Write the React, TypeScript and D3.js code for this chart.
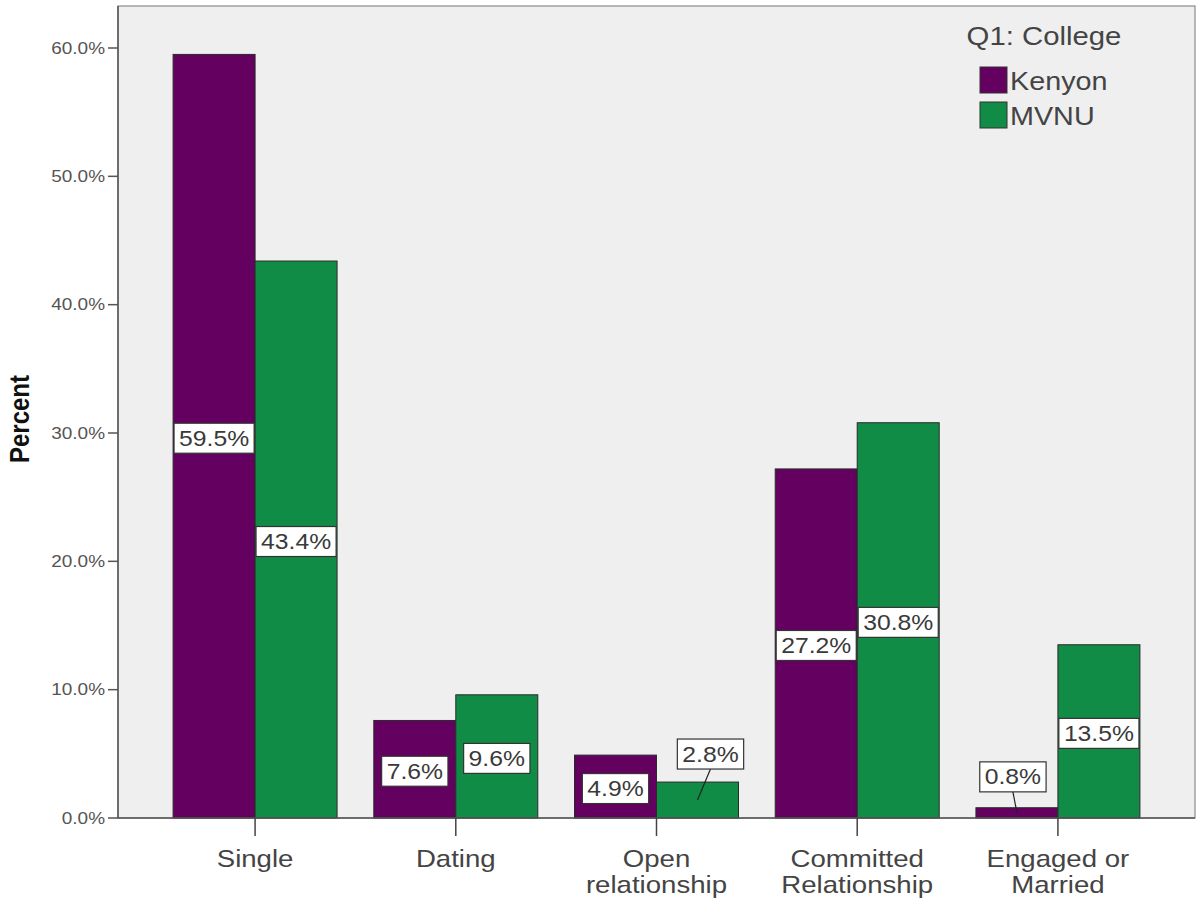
import React, { useEffect, useRef } from "react";
import * as d3 from "d3";

const categories = ["Single", "Dating", "Open relationship", "Committed Relationship", "Engaged or Married"];
const categoryLines = [["Single"], ["Dating"], ["Open", "relationship"], ["Committed", "Relationship"], ["Engaged or", "Married"]];
const seriesNames = ["Kenyon", "MVNU"];
const kenyonValues = [59.5, 7.6, 4.9, 27.2, 0.8];
const mvnuValues = [43.4, 9.6, 2.8, 30.8, 13.5];
const yTicks = [0, 10, 20, 30, 40, 50, 60];
const legendTitle = "Q1: College";
const yTitle = "Percent";
const colors = ["#640060", "#118c47"];
// label callout offsets (px) for bars too short to hold their label
const calloutOffsets: Record<string, [number, number]> = {
  "MVNU|Open relationship": [13, -46],
  "Kenyon|Engaged or Married": [-4, -36],
};

const W = 1200, H = 901;
const left = 118, right = 1195, top = 6, bottom = 818;
const SX = 1.15;
const FONT = "'Liberation Sans', Arial, sans-serif";

export default function App() {
  const ref = useRef<SVGSVGElement>(null);
  useEffect(() => {
    const svg = d3.select(ref.current);
    svg.selectAll("*").remove();

    const y = d3.scaleLinear().domain([0, 60]).range([bottom, 48]);
    const x0 = d3.scaleBand<string>().domain(categories).range([left, right]).paddingInner(0).paddingOuter(0.183);
    const x1 = d3.scaleBand<string>().domain(seriesNames).range([0, x0.bandwidth()]).paddingInner(0).paddingOuter(0.224);
    const values = [kenyonValues, mvnuValues];

    const stext = (g: any, x: number, yy: number, txt: string, size: number, anchor: string, fill: string, weight = "normal") => {
      const gg = g.append("g").attr("transform", `translate(${x},${yy}) scale(${SX},1)`);
      return gg.append("text").attr("x", 0).attr("y", 0).attr("text-anchor", anchor)
        .attr("font-family", FONT).attr("font-size", size).attr("font-weight", weight).attr("fill", fill).text(txt);
    };

    // plot background
    svg.append("rect").attr("x", left).attr("y", top).attr("width", right - left).attr("height", bottom - top)
      .attr("fill", "#efefef").attr("stroke", "#8a8a8a").attr("stroke-width", 1.2);

    // bars
    seriesNames.forEach((s, si) => {
      categories.forEach((c, ci) => {
        const v = values[si][ci];
        const bx = (x0(c) as number) + (x1(s) as number);
        svg.append("rect").attr("x", bx).attr("y", y(v)).attr("width", x1.bandwidth()).attr("height", y(0) - y(v))
          .attr("fill", colors[si]).attr("stroke", "#2a2a2a").attr("stroke-width", 1);
      });
    });

    // axes
    svg.append("line").attr("x1", left).attr("x2", left).attr("y1", top).attr("y2", bottom).attr("stroke", "#555").attr("stroke-width", 1.5);
    svg.append("line").attr("x1", left).attr("x2", right).attr("y1", bottom).attr("y2", bottom).attr("stroke", "#555").attr("stroke-width", 1.5);

    yTicks.forEach((t) => {
      svg.append("line").attr("x1", left - 10).attr("x2", left).attr("y1", y(t)).attr("y2", y(t)).attr("stroke", "#555").attr("stroke-width", 1.5);
      stext(svg, left - 13, y(t) + 5.5, `${t.toFixed(1)}%`, 16.5, "end", "#555");
    });

    categories.forEach((c, ci) => {
      const cx = (x0(c) as number) + x0.bandwidth() / 2;
      svg.append("line").attr("x1", cx).attr("x2", cx).attr("y1", bottom).attr("y2", bottom + 18).attr("stroke", "#444").attr("stroke-width", 1.5);
      categoryLines[ci].forEach((ln, li) => {
        stext(svg, cx, 867 + li * 26, ln, 24, "middle", "#444");
      });
    });

    // y title
    svg.append("g").attr("transform", `translate(29,419) scale(${SX},1) rotate(-90)`)
      .append("text").attr("text-anchor", "middle").attr("font-family", FONT).attr("font-size", 24).attr("font-weight", "bold")
      .attr("fill", "#111").text(yTitle);

    // data labels
    seriesNames.forEach((s, si) => {
      categories.forEach((c, ci) => {
        const v = values[si][ci];
        const bx = (x0(c) as number) + (x1(s) as number) + x1.bandwidth() / 2;
        const by = (y(v) + y(0)) / 2;
        const off = calloutOffsets[`${s}|${c}`];
        const lx = off ? bx + off[0] : bx;
        const ly = off ? by + off[1] : by + 2;
        const g = svg.append("g");
        const txt = `${v.toFixed(1)}%`;
        const rect = g.append("rect");
        const t = stext(g, lx, ly + 7.5, txt, 21.5, "middle", "#3a3a3a");
        const w = (t.node() as SVGTextElement).getComputedTextLength() * SX + 10;
        rect.attr("x", lx - w / 2).attr("y", ly - 15).attr("width", w).attr("height", 30)
          .attr("fill", "#fff").attr("stroke", "#333").attr("stroke-width", 1.2);
        if (off) {
          g.insert("line", ":first-child").attr("x1", bx).attr("y1", by).attr("x2", lx).attr("y2", ly + 15)
            .attr("stroke", "#222").attr("stroke-width", 1.2);
        }
      });
    });

    // legend
    stext(svg, 1044, 45, legendTitle, 25.5, "middle", "#444");
    seriesNames.forEach((s, si) => {
      const yy = 67 + si * 35;
      svg.append("rect").attr("x", 980).attr("y", yy).attr("width", 27).attr("height", 26)
        .attr("fill", colors[si]).attr("stroke", "#333").attr("stroke-width", 1);
      stext(svg, 1010, yy + 23, s, 25, "start", "#444");
    });
  }, []);
  return (
    <svg ref={ref} width={W} height={H} style={{ position: "absolute", left: 0, top: 0, background: "#fff" }} />
  );
}
